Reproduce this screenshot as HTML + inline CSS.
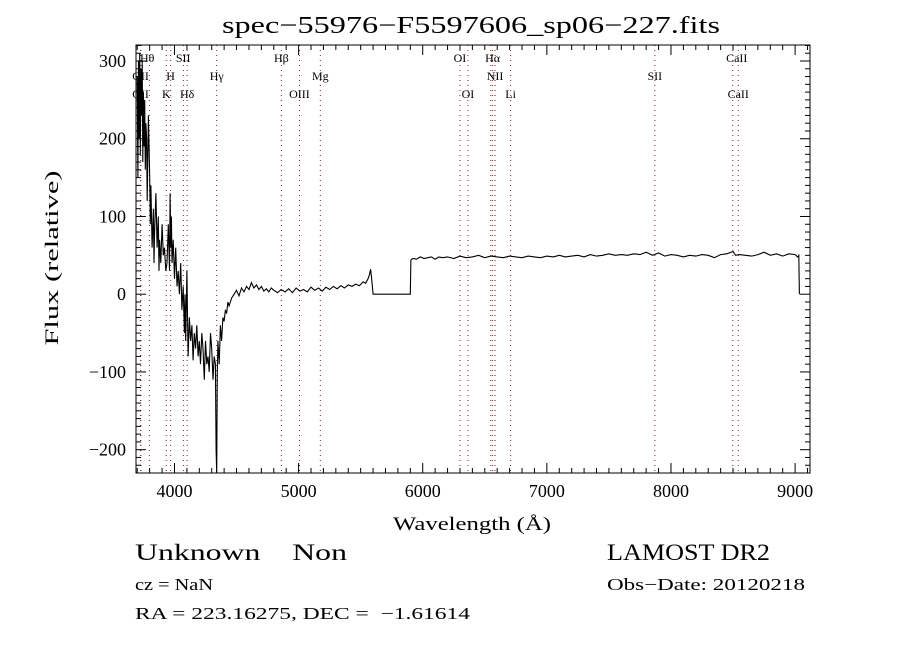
<!DOCTYPE html>
<html><head><meta charset="utf-8"><style>
body{margin:0;background:#fff}
svg text{font-family:"Liberation Serif",serif;fill:#000}
</style></head><body>
<svg id="chart" width="900" height="650" xmlns="http://www.w3.org/2000/svg">
<rect width="900" height="650" fill="#fff"/>
<text x="222" y="33" font-size="24" textLength="498" lengthAdjust="spacingAndGlyphs">spec−55976−F5597606_sp06−227.fits</text>
<g id="lines"></g>
<g id="ticks"></g>
<path id="spec" fill="none" stroke="#000" stroke-width="1.1"/>
<rect x="136" y="45" width="674" height="428" fill="none" stroke="#000" stroke-width="1"/>
<text transform="translate(58,258) rotate(-90)" text-anchor="middle" font-size="19" textLength="175" lengthAdjust="spacingAndGlyphs">Flux (relative)</text>
<text x="472" y="530" text-anchor="middle" font-size="19" textLength="158" lengthAdjust="spacingAndGlyphs">Wavelength (Å)</text>
<text x="135" y="560" font-size="23" style="white-space:pre" xml:space="preserve" textLength="212" lengthAdjust="spacingAndGlyphs">Unknown    Non</text>
<text x="607" y="560" font-size="23" textLength="163" lengthAdjust="spacingAndGlyphs">LAMOST DR2</text>
<text x="135" y="590" font-size="17" textLength="78" lengthAdjust="spacingAndGlyphs">cz = NaN</text>
<text x="607" y="590" font-size="17" textLength="198" lengthAdjust="spacingAndGlyphs">Obs−Date: 20120218</text>
<text x="135" y="619" font-size="17" style="white-space:pre" xml:space="preserve" textLength="335" lengthAdjust="spacingAndGlyphs">RA = 223.16275, DEC =  −1.61614</text>
</svg>
<script>
const wave=[
3700,3705,3710,3715,3720,3725,3730,3735,3740,3745,
3750,3755,3760,3765,3770,3775,3780,3790,3800,3805,
3810,3820,3830,3835,3840,3850,3860,3870,3875,3880,
3890,3900,3910,3920,3930,3940,3950,3960,3965,3970,
3975,3980,3990,4000,4010,4020,4030,4040,4050,4060,
4070,4080,4085,4090,4100,4110,4120,4130,4140,4150,
4160,4170,4180,4190,4200,4210,4220,4230,4240,4250,
4260,4270,4280,4290,4300,4310,4320,4330,4335,4340,
4345,4350,4360,4370,4380,4390,4400,4410,4420,4430,
4440,4460,4480,4500,4520,4540,4560,4580,4600,4620,
4640,4660,4680,4700,4720,4740,4760,4780,4800,4830,
4860,4890,4920,4950,4980,5010,5040,5070,5100,5130,
5160,5190,5220,5250,5280,5310,5340,5370,5400,5430,
5460,5490,5520,5540,5560,5570,5580,5590,5600,5900,
5905,5920,5950,5980,6010,6040,6070,6100,6130,6160,
6200,6250,6300,6350,6400,6450,6500,6550,6600,6650,
6700,6750,6800,6850,6900,6950,7000,7050,7100,7150,
7200,7250,7300,7350,7400,7450,7500,7550,7600,7650,
7700,7750,7800,7850,7900,7950,8000,8050,8100,8150,
8200,8250,8300,8350,8400,8450,8500,8520,8550,8600,
8650,8700,8750,8800,8850,8900,8950,9000,9020,9030,9035];
const flux=[
280,150,300,200,310,180,290,230,300,170,
260,190,250,160,220,200,120,230,150,90,
140,60,110,40,80,130,60,100,30,70,
40,90,50,60,30,40,90,30,130,60,
100,40,70,20,60,10,30,0,40,-20,
10,-50,0,-60,30,-80,-30,-60,-40,-85,
-50,-70,-40,-80,-60,-90,-50,-70,-110,-60,
-90,-80,-100,-50,-70,-110,-80,-90,-200,-230,
-100,-60,-90,-40,-60,-30,-35,-20,-25,-10,
-15,-5,0,5,-2,8,3,10,6,15,
8,12,6,10,4,7,3,8,5,2,
6,3,7,2,8,4,6,3,9,5,
8,4,9,6,10,7,11,8,12,10,
13,11,16,14,20,25,32,18,0,0,
44,46,45,48,46,47,48,45,48,47,
48,46,49,47,48,50,47,49,48,47,
49,48,47,49,48,47,49,48,50,48,
49,50,48,51,49,50,52,50,51,50,
52,51,54,50,53,49,51,50,48,50,
49,51,50,47,51,52,55,50,51,50,
49,51,54,50,52,49,52,51,48,50,0];
const lineWave=[3727,3729,3798,3934,3969,4072,4102,4340,4861,5007,5175,6300,6364,6548,6563,6583,6708,7870,8498,8542];
const labels=[["Hθ",3780,57],["SII",4070,57],["Hβ",4861,57],["OI",6300,57],["Hα",6563,57],["CaII",8530,57],
["OII",3727,75],["H",3969,75],["Hγ",4340,75],["Mg",5175,75],["NII",6583,75],["SII",7870,75],
["OII",3727,93],["K",3934,93],["Hδ",4102,93],["OIII",5007,93],["OI",6364,93],["Li",6708,93],["CaII",8542,93]];
const xTicks=[4000,5000,6000,7000,8000,9000];
const yTicks=[-200,-100,0,100,200,300];
const X0=3690,X1=9120,Y0=-230,Y1=320.6,L=136,R=810,T=45,B=473;
const sx=w=>L+(w-X0)/(X1-X0)*(R-L);
const sy=f=>B-(f-Y0)/(Y1-Y0)*(B-T);
const NS="http://www.w3.org/2000/svg";
function mk(tag,attrs,parent){const e=document.createElementNS(NS,tag);for(const k in attrs)e.setAttribute(k,attrs[k]);parent.appendChild(e);return e;}
const n=Math.min(wave.length,flux.length);
let d="";for(let i=0;i<n;i++){d+=(i?"L":"M")+sx(wave[i]).toFixed(1)+","+sy(flux[i]).toFixed(1);}
document.getElementById('spec').setAttribute('d',d);
const lg=document.getElementById('lines');
lineWave.forEach(w=>{const l=mk('line',{x1:sx(w),x2:sx(w),y1:T,y2:B,stroke:'#8b2020','stroke-width':1,'stroke-dasharray':'1,4'},lg);

});
labels.forEach(a=>{const t=mk('text',{x:sx(a[1]),y:a[2]+5,'font-size':12,'text-anchor':'middle'},lg);t.textContent=a[0];

});
const tg=document.getElementById('ticks');
for(let w=3700;w<=9100;w+=100){const major=w%1000===0,len=major?10:5;
mk('line',{x1:sx(w),x2:sx(w),y1:B,y2:B-len,stroke:'#000'},tg);mk('line',{x1:sx(w),x2:sx(w),y1:T,y2:T+len,stroke:'#000'},tg);}
for(let f=-220;f<=320;f+=10){const major=f%100===0,len=major?10:5;
mk('line',{x1:L,x2:L+len,y1:sy(f),y2:sy(f),stroke:'#000'},tg);mk('line',{x1:R,x2:R-len,y1:sy(f),y2:sy(f),stroke:'#000'},tg);}
xTicks.forEach(w=>{const t=mk('text',{x:sx(w),y:B+24,'font-size':18,'text-anchor':'middle'},tg);t.textContent=w;

});
yTicks.forEach(f=>{const t=mk('text',{x:126,y:sy(f)+6,'font-size':18,'text-anchor':'end'},tg);t.textContent=String(f).replace('-','−');

});
</script>
</body></html>
